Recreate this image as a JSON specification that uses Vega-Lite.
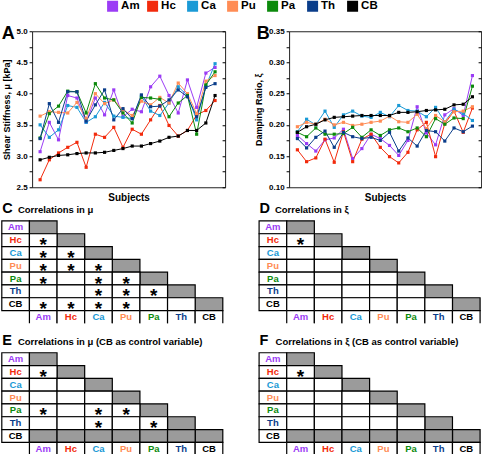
{
  "$schema": "https://vega.github.io/schema/vega-lite/v6.json",
  "autosize": {"type": "pad"},
  "padding": {"left": 1.1, "top": 0.25, "right": 0, "bottom": 0},
  "bounds": "flush",
  "columns": 2,
  "spacing": {"row": 19, "column": 64},
  "config": {"view": {"stroke": null}, "font": "Liberation Sans"},
  "datasets": {
    "legend": [{"m":"Am"},{"m":"Hc"},{"m":"Ca"},{"m":"Pu"},{"m":"Pa"},{"m":"Th"},{"m":"CB"}],
    "subj": [
      {"s":1,"m":"Am","mu":3.07,"xi":0.183},{"s":2,"m":"Am","mu":3.54,"xi":0.170},{"s":3,"m":"Am","mu":3.26,"xi":0.158},{"s":4,"m":"Am","mu":3.97,"xi":0.176},{"s":5,"m":"Am","mu":3.93,"xi":0.179},{"s":6,"m":"Am","mu":3.54,"xi":0.193},{"s":7,"m":"Am","mu":3.93,"xi":0.146},{"s":8,"m":"Am","mu":3.66,"xi":0.162},{"s":9,"m":"Am","mu":4.06,"xi":0.185},{"s":10,"m":"Am","mu":3.63,"xi":0.178},{"s":11,"m":"Am","mu":3.75,"xi":0.167},{"s":12,"m":"Am","mu":3.71,"xi":0.151},{"s":13,"m":"Am","mu":4.11,"xi":0.175},{"s":14,"m":"Am","mu":4.28,"xi":0.229},{"s":15,"m":"Am","mu":3.97,"xi":0.187},{"s":16,"m":"Am","mu":3.69,"xi":0.168},{"s":17,"m":"Am","mu":4.22,"xi":0.216},{"s":18,"m":"Am","mu":3.78,"xi":0.226},{"s":19,"m":"Am","mu":4.33,"xi":0.215},{"s":20,"m":"Am","mu":4.42,"xi":0.279},
      {"s":1,"m":"Hc","mu":2.62,"xi":0.160},{"s":2,"m":"Hc","mu":2.94,"xi":0.141},{"s":3,"m":"Hc","mu":3.05,"xi":0.147},{"s":4,"m":"Hc","mu":3.14,"xi":0.177},{"s":5,"m":"Hc","mu":3.22,"xi":0.140},{"s":6,"m":"Hc","mu":2.82,"xi":0.189},{"s":7,"m":"Hc","mu":3.35,"xi":0.141},{"s":8,"m":"Hc","mu":3.30,"xi":0.177},{"s":9,"m":"Hc","mu":3.46,"xi":0.185},{"s":10,"m":"Hc","mu":3.14,"xi":0.164},{"s":11,"m":"Hc","mu":3.43,"xi":0.149},{"s":12,"m":"Hc","mu":3.35,"xi":0.139},{"s":13,"m":"Hc","mu":3.58,"xi":0.156},{"s":14,"m":"Hc","mu":3.81,"xi":0.192},{"s":15,"m":"Hc","mu":3.49,"xi":0.204},{"s":16,"m":"Hc","mu":3.32,"xi":0.149},{"s":17,"m":"Hc","mu":3.41,"xi":0.202},{"s":18,"m":"Hc","mu":3.66,"xi":0.222},{"s":19,"m":"Hc","mu":3.73,"xi":0.188},{"s":20,"m":"Hc","mu":3.89,"xi":0.227},
      {"s":1,"m":"Ca","mu":3.50,"xi":0.189},{"s":2,"m":"Ca","mu":3.30,"xi":0.209},{"s":3,"m":"Ca","mu":3.42,"xi":0.200},{"s":4,"m":"Ca","mu":3.81,"xi":0.222},{"s":5,"m":"Ca","mu":3.78,"xi":0.196},{"s":6,"m":"Ca","mu":3.54,"xi":0.216},{"s":7,"m":"Ca","mu":3.63,"xi":0.222},{"s":8,"m":"Ca","mu":3.86,"xi":0.214},{"s":9,"m":"Ca","mu":3.64,"xi":0.212},{"s":10,"m":"Ca","mu":3.62,"xi":0.220},{"s":11,"m":"Ca","mu":3.60,"xi":0.213},{"s":12,"m":"Ca","mu":3.96,"xi":0.231},{"s":13,"m":"Ca","mu":3.72,"xi":0.223},{"s":14,"m":"Ca","mu":3.65,"xi":0.222},{"s":15,"m":"Ca","mu":3.85,"xi":0.213},{"s":16,"m":"Ca","mu":4.11,"xi":0.228},{"s":17,"m":"Ca","mu":3.97,"xi":0.205},{"s":18,"m":"Ca","mu":3.58,"xi":0.225},{"s":19,"m":"Ca","mu":4.12,"xi":0.218},{"s":20,"m":"Ca","mu":4.48,"xi":0.207},
      {"s":1,"m":"Pu","mu":3.64,"xi":0.197},{"s":2,"m":"Pu","mu":3.71,"xi":0.204},{"s":3,"m":"Pu","mu":3.70,"xi":0.201},{"s":4,"m":"Pu","mu":3.69,"xi":0.209},{"s":5,"m":"Pu","mu":3.86,"xi":0.200},{"s":6,"m":"Pu","mu":3.60,"xi":0.204},{"s":7,"m":"Pu","mu":4.00,"xi":0.199},{"s":8,"m":"Pu","mu":3.84,"xi":0.201},{"s":9,"m":"Pu","mu":3.90,"xi":0.204},{"s":10,"m":"Pu","mu":3.74,"xi":0.206},{"s":11,"m":"Pu","mu":3.65,"xi":0.214},{"s":12,"m":"Pu","mu":3.88,"xi":0.205},{"s":13,"m":"Pu","mu":3.82,"xi":0.204},{"s":14,"m":"Pu","mu":3.94,"xi":0.217},{"s":15,"m":"Pu","mu":3.85,"xi":0.194},{"s":16,"m":"Pu","mu":4.17,"xi":0.215},{"s":17,"m":"Pu","mu":4.00,"xi":0.205},{"s":18,"m":"Pu","mu":3.68,"xi":0.221},{"s":19,"m":"Pu","mu":4.20,"xi":0.222},{"s":20,"m":"Pu","mu":4.29,"xi":0.229},
      {"s":1,"m":"Pa","mu":3.29,"xi":0.188},{"s":2,"m":"Pa","mu":3.68,"xi":0.181},{"s":3,"m":"Pa","mu":3.80,"xi":0.195},{"s":4,"m":"Pa","mu":4.04,"xi":0.185},{"s":5,"m":"Pa","mu":4.03,"xi":0.185},{"s":6,"m":"Pa","mu":3.69,"xi":0.186},{"s":7,"m":"Pa","mu":4.16,"xi":0.196},{"s":8,"m":"Pa","mu":3.93,"xi":0.180},{"s":9,"m":"Pa","mu":3.90,"xi":0.192},{"s":10,"m":"Pa","mu":3.69,"xi":0.183},{"s":11,"m":"Pa","mu":3.53,"xi":0.192},{"s":12,"m":"Pa","mu":3.94,"xi":0.195},{"s":13,"m":"Pa","mu":3.93,"xi":0.189},{"s":14,"m":"Pa","mu":3.91,"xi":0.195},{"s":15,"m":"Pa","mu":3.63,"xi":0.181},{"s":16,"m":"Pa","mu":3.85,"xi":0.210},{"s":17,"m":"Pa","mu":3.97,"xi":0.201},{"s":18,"m":"Pa","mu":3.35,"xi":0.211},{"s":19,"m":"Pa","mu":4.14,"xi":0.210},{"s":20,"m":"Pa","mu":4.35,"xi":0.262},
      {"s":1,"m":"Th","mu":3.28,"xi":0.178},{"s":2,"m":"Th","mu":3.84,"xi":0.163},{"s":3,"m":"Th","mu":3.54,"xi":0.180},{"s":4,"m":"Th","mu":4.03,"xi":0.190},{"s":5,"m":"Th","mu":4.03,"xi":0.164},{"s":6,"m":"Th","mu":3.56,"xi":0.188},{"s":7,"m":"Th","mu":3.82,"xi":0.181},{"s":8,"m":"Th","mu":4.06,"xi":0.178},{"s":9,"m":"Th","mu":3.58,"xi":0.180},{"s":10,"m":"Th","mu":3.76,"xi":0.175},{"s":11,"m":"Th","mu":3.60,"xi":0.188},{"s":12,"m":"Th","mu":3.98,"xi":0.158},{"s":13,"m":"Th","mu":3.79,"xi":0.179},{"s":14,"m":"Th","mu":3.80,"xi":0.166},{"s":15,"m":"Th","mu":3.90,"xi":0.191},{"s":16,"m":"Th","mu":4.06,"xi":0.189},{"s":17,"m":"Th","mu":3.95,"xi":0.174},{"s":18,"m":"Th","mu":3.63,"xi":0.195},{"s":19,"m":"Th","mu":4.10,"xi":0.189},{"s":20,"m":"Th","mu":4.16,"xi":0.198},
      {"s":1,"m":"CB","mu":2.94,"xi":0.188},{"s":2,"m":"CB","mu":2.98,"xi":0.197},{"s":3,"m":"CB","mu":3.01,"xi":0.201},{"s":4,"m":"CB","mu":3.02,"xi":0.208},{"s":5,"m":"CB","mu":3.04,"xi":0.212},{"s":6,"m":"CB","mu":3.05,"xi":0.213},{"s":7,"m":"CB","mu":3.05,"xi":0.214},{"s":8,"m":"CB","mu":3.06,"xi":0.215},{"s":9,"m":"CB","mu":3.09,"xi":0.215},{"s":10,"m":"CB","mu":3.12,"xi":0.215},{"s":11,"m":"CB","mu":3.16,"xi":0.215},{"s":12,"m":"CB","mu":3.16,"xi":0.220},{"s":13,"m":"CB","mu":3.20,"xi":0.220},{"s":14,"m":"CB","mu":3.24,"xi":0.221},{"s":15,"m":"CB","mu":3.30,"xi":0.223},{"s":16,"m":"CB","mu":3.32,"xi":0.224},{"s":17,"m":"CB","mu":3.41,"xi":0.225},{"s":18,"m":"CB","mu":3.41,"xi":0.232},{"s":19,"m":"CB","mu":3.53,"xi":0.233},{"s":20,"m":"CB","mu":3.97,"xi":0.245}
    ],
    "grid": [
      {"r":"Am","c":"_","k":"label","t":"Am"},{"r":"Hc","c":"_","k":"label","t":"Hc"},{"r":"Ca","c":"_","k":"label","t":"Ca"},{"r":"Pu","c":"_","k":"label","t":"Pu"},{"r":"Pa","c":"_","k":"label","t":"Pa"},{"r":"Th","c":"_","k":"label","t":"Th"},{"r":"CB","c":"_","k":"label","t":"CB"},
      {"r":"_","c":"Am","k":"collab","t":"Am"},{"r":"_","c":"Hc","k":"collab","t":"Hc"},{"r":"_","c":"Ca","k":"collab","t":"Ca"},{"r":"_","c":"Pu","k":"collab","t":"Pu"},{"r":"_","c":"Pa","k":"collab","t":"Pa"},{"r":"_","c":"Th","k":"collab","t":"Th"},{"r":"_","c":"CB","k":"collab","t":"CB"},
      {"r":"Am","c":"Am","k":"diag"},{"r":"Hc","c":"Hc","k":"diag"},{"r":"Ca","c":"Ca","k":"diag"},{"r":"Pu","c":"Pu","k":"diag"},{"r":"Pa","c":"Pa","k":"diag"},{"r":"Th","c":"Th","k":"diag"},{"r":"CB","c":"CB","k":"diag"},
      {"r":"Hc","c":"Am","k":"open"},
      {"r":"Ca","c":"Am","k":"open"},{"r":"Ca","c":"Hc","k":"open"},
      {"r":"Pu","c":"Am","k":"open"},{"r":"Pu","c":"Hc","k":"open"},{"r":"Pu","c":"Ca","k":"open"},
      {"r":"Pa","c":"Am","k":"open"},{"r":"Pa","c":"Hc","k":"open"},{"r":"Pa","c":"Ca","k":"open"},{"r":"Pa","c":"Pu","k":"open"},
      {"r":"Th","c":"Am","k":"open"},{"r":"Th","c":"Hc","k":"open"},{"r":"Th","c":"Ca","k":"open"},{"r":"Th","c":"Pu","k":"open"},{"r":"Th","c":"Pa","k":"open"},
      {"r":"CB","c":"Am","k":"open"},{"r":"CB","c":"Hc","k":"open"},{"r":"CB","c":"Ca","k":"open"},{"r":"CB","c":"Pu","k":"open"},{"r":"CB","c":"Pa","k":"open"},{"r":"CB","c":"Th","k":"open"}
    ],
    "ctrl": [
      {"r":"CB","c":"Am","k":"ctrl"},{"r":"CB","c":"Hc","k":"ctrl"},{"r":"CB","c":"Ca","k":"ctrl"},{"r":"CB","c":"Pu","k":"ctrl"},{"r":"CB","c":"Pa","k":"ctrl"},{"r":"CB","c":"Th","k":"ctrl"}
    ],
    "stars": [
      {"p":"C","r":"Hc","c":"Am"},{"p":"C","r":"Ca","c":"Am"},{"p":"C","r":"Ca","c":"Hc"},{"p":"C","r":"Pu","c":"Am"},{"p":"C","r":"Pu","c":"Hc"},{"p":"C","r":"Pu","c":"Ca"},{"p":"C","r":"Pa","c":"Am"},{"p":"C","r":"Pa","c":"Ca"},{"p":"C","r":"Pa","c":"Pu"},{"p":"C","r":"Th","c":"Ca"},{"p":"C","r":"Th","c":"Pu"},{"p":"C","r":"Th","c":"Pa"},{"p":"C","r":"CB","c":"Am"},{"p":"C","r":"CB","c":"Hc"},{"p":"C","r":"CB","c":"Ca"},{"p":"C","r":"CB","c":"Pu"},
      {"p":"D","r":"Hc","c":"Am"},
      {"p":"E","r":"Hc","c":"Am"},{"p":"E","r":"Pa","c":"Am"},{"p":"E","r":"Pa","c":"Ca"},{"p":"E","r":"Pa","c":"Pu"},{"p":"E","r":"Th","c":"Ca"},{"p":"E","r":"Th","c":"Pa"},
      {"p":"F","r":"Hc","c":"Am"}
    ]
  },
  "concat": [
    {
      "width": 193, "height": 12,
      "data": {"name": "legend"},
      "encoding": {
        "x": {"field": "m", "type": "nominal", "sort": null, "scale": {"type": "point", "domain": ["Am","Hc","Ca","Pu","Pa","Th","CB"], "range": [80.5, 320.5], "padding": 0}, "axis": null}
      },
      "layer": [
        {"mark": {"type": "square", "size": 121, "opacity": 1, "filled": true},
         "encoding": {"color": {"field": "m", "type": "nominal", "scale": {"domain": ["Am","Hc","Ca","Pu","Pa","Th","CB"], "range": ["#9b3cf5","#f22a0c","#1a9ad6","#ff8c55","#0c8a0c","#0a3d8a","#000000"]}, "legend": null}}},
        {"mark": {"type": "text", "align": "left", "baseline": "middle", "dx": 8.5, "fontSize": 11.5, "fontWeight": "bold", "color": "black"},
         "encoding": {"text": {"field": "m"}}}
      ]
    },
    {
      "width": 192, "height": 12,
      "data": {"values": [{"e": 0}]},
      "mark": {"type": "point", "opacity": 0},
      "encoding": {}
    },
    {
      "width": 193, "height": 156,
      "view": {"stroke": "#222", "strokeWidth": 1},
      "title": {"text": "A", "fontSize": 18, "fontWeight": "bold", "anchor": "start", "frame": "group", "baseline": "alphabetic", "offset": -11.3, "dx": -30.3, "dy": 18.3, "color": "black"},
      "data": {"name": "subj"},
      "encoding": {
        "x": {"field": "s", "type": "quantitative", "scale": {"domain": [0.13, 21.09], "nice": false, "zero": false},
              "axis": {"title": "Subjects", "labels": false, "ticks": false, "domain": false, "grid": false, "titleFontSize": 10, "titleFontWeight": "bold", "titleColor": "black", "titlePadding": 5}}
      },
      "layer": [
        {"mark": {"type": "line", "strokeWidth": 1, "point": {"shape": "square", "size": 10, "filled": true}},
         "encoding": {
           "y": {"field": "mu", "type": "quantitative", "scale": {"domain": [2.5, 5.0], "nice": false, "zero": false},
                 "axis": {"values": [2.5,2.75,3,3.25,3.5,3.75,4,4.25,4.5,4.75,5], "labelExpr": "round(datum.value*4) % 2 == 0 ? format(datum.value, '.1f') : ''", "labelOverlap": false, "labelFontSize": 8, "labelFontWeight": "bold", "labelColor": "black", "tickSize": 3, "tickColor": "black", "labelPadding": 2, "domain": false, "grid": false,
                          "title": "Shear Stiffness, μ [kPa]", "titleFontSize": 9, "titleFontWeight": "bold", "titleColor": "black", "titlePadding": 4}},
           "color": {"field": "m", "type": "nominal", "scale": {"domain": ["Am","Hc","Ca","Pu","Pa","Th","CB"], "range": ["#9b3cf5","#f22a0c","#1a9ad6","#ff8c55","#0c8a0c","#0a3d8a","#000000"]}, "legend": null}
         }},
        {"mark": {"type": "point", "opacity": 0},
         "encoding": {
           "y": {"field": "mu", "type": "quantitative", "scale": {"domain": [2.5, 5.0], "nice": false, "zero": false},
                 "axis": {"orient": "right", "values": [2.5,2.75,3,3.25,3.5,3.75,4,4.25,4.5,4.75,5], "labels": false, "tickSize": -3, "tickColor": "black", "domain": false, "grid": false, "title": null}}
         }}
      ],
      "resolve": {"axis": {"y": "independent"}}
    },
    {
      "width": 192, "height": 156,
      "view": {"stroke": "#222", "strokeWidth": 1},
      "title": {"text": "B", "fontSize": 18, "fontWeight": "bold", "anchor": "start", "frame": "group", "baseline": "alphabetic", "offset": -11.3, "dx": -32.3, "dy": 18.3, "color": "black"},
      "data": {"name": "subj"},
      "encoding": {
        "x": {"field": "s", "type": "quantitative", "scale": {"domain": [0.10, 20.94], "nice": false, "zero": false},
              "axis": {"title": "Subjects", "labels": false, "ticks": false, "domain": false, "grid": false, "titleFontSize": 10, "titleFontWeight": "bold", "titleColor": "black", "titlePadding": 5}}
      },
      "layer": [
        {"mark": {"type": "line", "strokeWidth": 1, "point": {"shape": "square", "size": 10, "filled": true}},
         "encoding": {
           "y": {"field": "xi", "type": "quantitative", "scale": {"domain": [0.10, 0.35], "nice": false, "zero": false},
                 "axis": {"values": [0.1,0.125,0.15,0.175,0.2,0.225,0.25,0.275,0.3,0.325,0.35], "labelExpr": "round(datum.value*40) % 2 == 0 ? format(datum.value, '.2f') : ''", "labelOverlap": false, "labelFontSize": 8, "labelFontWeight": "bold", "labelColor": "black", "tickSize": 3, "tickColor": "black", "labelPadding": 2, "domain": false, "grid": false,
                          "title": "Damping Ratio, ξ", "titleFontSize": 9, "titleFontWeight": "bold", "titleColor": "black", "titlePadding": 5}},
           "color": {"field": "m", "type": "nominal", "scale": {"domain": ["Am","Hc","Ca","Pu","Pa","Th","CB"], "range": ["#9b3cf5","#f22a0c","#1a9ad6","#ff8c55","#0c8a0c","#0a3d8a","#000000"]}, "legend": null}
         }},
        {"mark": {"type": "point", "opacity": 0},
         "encoding": {
           "y": {"field": "xi", "type": "quantitative", "scale": {"domain": [0.10, 0.35], "nice": false, "zero": false},
                 "axis": {"orient": "right", "values": [0.1,0.125,0.15,0.175,0.2,0.225,0.25,0.275,0.3,0.325,0.35], "labels": false, "tickSize": -3, "tickColor": "black", "domain": false, "grid": false, "title": null}}
         }}
      ],
      "resolve": {"axis": {"y": "independent"}}
    },
    {
      "width": 193, "height": 117.1,
      "encoding": {
        "x": {"field": "c", "type": "nominal", "scale": {"type": "band", "domain": ["_","Am","Hc","Ca","Pu","Pa","Th","CB"], "range": [-30.3, 190.7], "paddingInner": 0, "paddingOuter": 0},
              "axis": {"orient": "top", "labels": false, "ticks": false, "domain": false, "grid": false, "title": "Correlations in μ", "titleX": -14.7, "titleY": 6.5, "titleAlign": "left", "titleAngle": 0, "titleBaseline": "alphabetic", "titleFontSize": 9.5, "titleFontWeight": "bold", "titleColor": "black"}},
        "y": {"field": "r", "type": "nominal", "scale": {"type": "band", "domain": ["Am","Hc","Ca","Pu","Pa","Th","CB","_"], "range": [14.7, 117.1], "paddingInner": 0, "paddingOuter": 0},
              "axis": {"orient": "left", "labels": false, "ticks": false, "domain": false, "grid": false, "title": "C", "titleX": -30.3, "titleY": 6.5, "titleAlign": "left", "titleAngle": 0, "titleBaseline": "alphabetic", "titleFontSize": 14.5, "titleFontWeight": "bold", "titleColor": "black"}}
      },
      "layer": [
        {"data": {"name": "grid"}, "transform": [{"filter": "datum.k != 'collab'"}], "mark": {"type": "rect", "stroke": "black", "strokeWidth": 1.2},
         "encoding": {"fill": {"field": "k", "type": "nominal", "scale": {"domain": ["label","open","diag","ctrl","collab"], "range": ["white","white","#9b9b9b","#9b9b9b","white"]}, "legend": null}}},
        {"data": {"name": "grid"}, "transform": [{"filter": "datum.k == 'collab'"}], "mark": {"type": "rect", "stroke": "black", "strokeWidth": 1.2, "strokeDash": [40.425, 27.625, 12.8]},
         "encoding": {"fill": {"field": "k", "type": "nominal", "scale": {"domain": ["label","open","diag","ctrl","collab"], "range": ["white","white","#9b9b9b","#9b9b9b","white"]}, "legend": null}}},
        {"data": {"name": "grid"}, "transform": [{"filter": "datum.k == 'label' || datum.k == 'collab'"}], "mark": {"type": "text", "fontSize": 9.5, "fontWeight": "bold", "baseline": "middle"},
         "encoding": {"text": {"field": "t"}, "color": {"field": "t", "type": "nominal", "scale": {"domain": ["Am","Hc","Ca","Pu","Pa","Th","CB"], "range": ["#9b3cf5","#f22a0c","#1a9ad6","#ff8c55","#0c8a0c","#0a3d8a","#000000"]}, "legend": null}}},
        {"data": {"name": "stars"}, "transform": [{"filter": "datum.p == 'C'"}], "mark": {"type": "text", "text": "*", "fontSize": 19, "fontWeight": "bold", "baseline": "alphabetic", "dy": 11, "color": "black"}, "encoding": {}}
      ]
    },
    {
      "width": 192, "height": 117.1,
      "encoding": {
        "x": {"field": "c", "type": "nominal", "scale": {"type": "band", "domain": ["_","Am","Hc","Ca","Pu","Pa","Th","CB"], "range": [-30, 191], "paddingInner": 0, "paddingOuter": 0},
              "axis": {"orient": "top", "labels": false, "ticks": false, "domain": false, "grid": false, "title": "Correlations in ξ", "titleX": -14.7, "titleY": 6.5, "titleAlign": "left", "titleAngle": 0, "titleBaseline": "alphabetic", "titleFontSize": 9.5, "titleFontWeight": "bold", "titleColor": "black"}},
        "y": {"field": "r", "type": "nominal", "scale": {"type": "band", "domain": ["Am","Hc","Ca","Pu","Pa","Th","CB","_"], "range": [14.7, 117.1], "paddingInner": 0, "paddingOuter": 0},
              "axis": {"orient": "left", "labels": false, "ticks": false, "domain": false, "grid": false, "title": "D", "titleX": -30, "titleY": 6.5, "titleAlign": "left", "titleAngle": 0, "titleBaseline": "alphabetic", "titleFontSize": 14.5, "titleFontWeight": "bold", "titleColor": "black"}}
      },
      "layer": [
        {"data": {"name": "grid"}, "transform": [{"filter": "datum.k != 'collab'"}], "mark": {"type": "rect", "stroke": "black", "strokeWidth": 1.2},
         "encoding": {"fill": {"field": "k", "type": "nominal", "scale": {"domain": ["label","open","diag","ctrl","collab"], "range": ["white","white","#9b9b9b","#9b9b9b","white"]}, "legend": null}}},
        {"data": {"name": "grid"}, "transform": [{"filter": "datum.k == 'collab'"}], "mark": {"type": "rect", "stroke": "black", "strokeWidth": 1.2, "strokeDash": [40.425, 27.625, 12.8]},
         "encoding": {"fill": {"field": "k", "type": "nominal", "scale": {"domain": ["label","open","diag","ctrl","collab"], "range": ["white","white","#9b9b9b","#9b9b9b","white"]}, "legend": null}}},
        {"data": {"name": "grid"}, "transform": [{"filter": "datum.k == 'label' || datum.k == 'collab'"}], "mark": {"type": "text", "fontSize": 9.5, "fontWeight": "bold", "baseline": "middle"},
         "encoding": {"text": {"field": "t"}, "color": {"field": "t", "type": "nominal", "scale": {"domain": ["Am","Hc","Ca","Pu","Pa","Th","CB"], "range": ["#9b3cf5","#f22a0c","#1a9ad6","#ff8c55","#0c8a0c","#0a3d8a","#000000"]}, "legend": null}}},
        {"data": {"name": "stars"}, "transform": [{"filter": "datum.p == 'D'"}], "mark": {"type": "text", "text": "*", "fontSize": 19, "fontWeight": "bold", "baseline": "alphabetic", "dy": 11, "color": "black"}, "encoding": {}}
      ]
    },
    {
      "width": 193, "height": 111.9,
      "encoding": {
        "x": {"field": "c", "type": "nominal", "scale": {"type": "band", "domain": ["_","Am","Hc","Ca","Pu","Pa","Th","CB"], "range": [-30.3, 190.7], "paddingInner": 0, "paddingOuter": 0},
              "axis": {"orient": "top", "labels": false, "ticks": false, "domain": false, "grid": false, "title": "Correlations in μ (CB as control variable)", "titleX": -14.7, "titleY": 0.9, "titleAlign": "left", "titleAngle": 0, "titleBaseline": "alphabetic", "titleFontSize": 9.5, "titleFontWeight": "bold", "titleColor": "black"}},
        "y": {"field": "r", "type": "nominal", "scale": {"type": "band", "domain": ["Am","Hc","Ca","Pu","Pa","Th","CB","_"], "range": [9.5, 111.9], "paddingInner": 0, "paddingOuter": 0},
              "axis": {"orient": "left", "labels": false, "ticks": false, "domain": false, "grid": false, "title": "E", "titleX": -30.3, "titleY": 0.9, "titleAlign": "left", "titleAngle": 0, "titleBaseline": "alphabetic", "titleFontSize": 14.5, "titleFontWeight": "bold", "titleColor": "black"}}
      },
      "layer": [
        {"data": {"name": "grid"}, "transform": [{"filter": "datum.k != 'collab'"}], "mark": {"type": "rect", "stroke": "black", "strokeWidth": 1.2},
         "encoding": {"fill": {"field": "k", "type": "nominal", "scale": {"domain": ["label","open","diag","ctrl","collab"], "range": ["white","white","#9b9b9b","#9b9b9b","white"]}, "legend": null}}},
        {"data": {"name": "ctrl"}, "mark": {"type": "rect", "stroke": "black", "strokeWidth": 1.2},
         "encoding": {"fill": {"field": "k", "type": "nominal", "scale": {"domain": ["label","open","diag","ctrl","collab"], "range": ["white","white","#9b9b9b","#9b9b9b","white"]}, "legend": null}}},
        {"data": {"name": "grid"}, "transform": [{"filter": "datum.k == 'collab'"}], "mark": {"type": "rect", "stroke": "black", "strokeWidth": 1.2, "strokeDash": [40.425, 27.625, 12.8]},
         "encoding": {"fill": {"field": "k", "type": "nominal", "scale": {"domain": ["label","open","diag","ctrl","collab"], "range": ["white","white","#9b9b9b","#9b9b9b","white"]}, "legend": null}}},
        {"data": {"name": "grid"}, "transform": [{"filter": "datum.k == 'label' || datum.k == 'collab'"}], "mark": {"type": "text", "fontSize": 9.5, "fontWeight": "bold", "baseline": "middle"},
         "encoding": {"text": {"field": "t"}, "color": {"field": "t", "type": "nominal", "scale": {"domain": ["Am","Hc","Ca","Pu","Pa","Th","CB"], "range": ["#9b3cf5","#f22a0c","#1a9ad6","#ff8c55","#0c8a0c","#0a3d8a","#000000"]}, "legend": null}}},
        {"data": {"name": "stars"}, "transform": [{"filter": "datum.p == 'E'"}], "mark": {"type": "text", "text": "*", "fontSize": 19, "fontWeight": "bold", "baseline": "alphabetic", "dy": 11, "color": "black"}, "encoding": {}}
      ]
    },
    {
      "width": 192, "height": 111.9,
      "encoding": {
        "x": {"field": "c", "type": "nominal", "scale": {"type": "band", "domain": ["_","Am","Hc","Ca","Pu","Pa","Th","CB"], "range": [-30, 191], "paddingInner": 0, "paddingOuter": 0},
              "axis": {"orient": "top", "labels": false, "ticks": false, "domain": false, "grid": false, "title": "Correlations in ξ (CB as control variable)", "titleX": -14, "titleY": 0.9, "titleAlign": "left", "titleAngle": 0, "titleBaseline": "alphabetic", "titleFontSize": 9.5, "titleFontWeight": "bold", "titleColor": "black"}},
        "y": {"field": "r", "type": "nominal", "scale": {"type": "band", "domain": ["Am","Hc","Ca","Pu","Pa","Th","CB","_"], "range": [9.5, 111.9], "paddingInner": 0, "paddingOuter": 0},
              "axis": {"orient": "left", "labels": false, "ticks": false, "domain": false, "grid": false, "title": "F", "titleX": -30, "titleY": 0.9, "titleAlign": "left", "titleAngle": 0, "titleBaseline": "alphabetic", "titleFontSize": 14.5, "titleFontWeight": "bold", "titleColor": "black"}}
      },
      "layer": [
        {"data": {"name": "grid"}, "transform": [{"filter": "datum.k != 'collab'"}], "mark": {"type": "rect", "stroke": "black", "strokeWidth": 1.2},
         "encoding": {"fill": {"field": "k", "type": "nominal", "scale": {"domain": ["label","open","diag","ctrl","collab"], "range": ["white","white","#9b9b9b","#9b9b9b","white"]}, "legend": null}}},
        {"data": {"name": "ctrl"}, "mark": {"type": "rect", "stroke": "black", "strokeWidth": 1.2},
         "encoding": {"fill": {"field": "k", "type": "nominal", "scale": {"domain": ["label","open","diag","ctrl","collab"], "range": ["white","white","#9b9b9b","#9b9b9b","white"]}, "legend": null}}},
        {"data": {"name": "grid"}, "transform": [{"filter": "datum.k == 'collab'"}], "mark": {"type": "rect", "stroke": "black", "strokeWidth": 1.2, "strokeDash": [40.425, 27.625, 12.8]},
         "encoding": {"fill": {"field": "k", "type": "nominal", "scale": {"domain": ["label","open","diag","ctrl","collab"], "range": ["white","white","#9b9b9b","#9b9b9b","white"]}, "legend": null}}},
        {"data": {"name": "grid"}, "transform": [{"filter": "datum.k == 'label' || datum.k == 'collab'"}], "mark": {"type": "text", "fontSize": 9.5, "fontWeight": "bold", "baseline": "middle"},
         "encoding": {"text": {"field": "t"}, "color": {"field": "t", "type": "nominal", "scale": {"domain": ["Am","Hc","Ca","Pu","Pa","Th","CB"], "range": ["#9b3cf5","#f22a0c","#1a9ad6","#ff8c55","#0c8a0c","#0a3d8a","#000000"]}, "legend": null}}},
        {"data": {"name": "stars"}, "transform": [{"filter": "datum.p == 'F'"}], "mark": {"type": "text", "text": "*", "fontSize": 19, "fontWeight": "bold", "baseline": "alphabetic", "dy": 11, "color": "black"}, "encoding": {}}
      ]
    }
  ]
}
